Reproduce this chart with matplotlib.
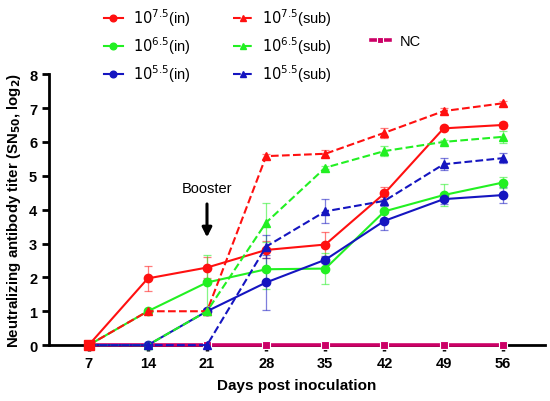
import matplotlib
matplotlib.use("Agg")
import matplotlib.pyplot as plt

plt.rcParams['font.family'] = ['Liberation Sans', 'DejaVu Sans']

days = [7, 14, 21, 28, 35, 42, 49, 56]

# intranasal groups (solid, circles)
in75 = [0, 1.97, 2.29, 2.81, 2.97, 4.48, 6.40, 6.50]
in75_err = [0, 0.37, 0.30, 0.25, 0.36, 0.18, 0.05, 0.10]
in65 = [0, 1.0, 1.85, 2.24, 2.26, 3.95, 4.43, 4.80]
in65_err = [0, 0, 0.80, 0.57, 0.46, 0.20, 0.33, 0.15]
in55 = [0, 0, 1.0, 1.85, 2.52, 3.67, 4.31, 4.43]
in55_err = [0, 0, 0, 0.80, 0.10, 0.28, 0.15, 0.24]

# subcutaneous groups (dashed, triangles)
sub75 = [0, 1.0, 1.0, 5.58, 5.65, 6.27, 6.91, 7.14]
sub75_err = [0, 0, 0, 0.07, 0.10, 0.15, 0.10, 0.08]
sub65 = [0, 0, 1.0, 3.62, 5.24, 5.73, 6.00, 6.15]
sub65_err = [0, 0, 0, 0.57, 0.05, 0.16, 0.05, 0.17]
sub55 = [0, 0, 0, 2.91, 3.95, 4.26, 5.34, 5.52]
sub55_err = [0, 0, 0, 0.35, 0.35, 0.15, 0.18, 0.14]

nc = [0, 0, 0, 0, 0, 0, 0, 0]

red = '#FF1010'
green = '#22F022'
blue = '#1515C0'
magenta = '#CC0066'

fig = plt.figure(figsize=(5.5, 4.02), dpi=100)
ax = fig.add_axes([0.089, 0.139, 0.902, 0.674])

series = [
    (in75, in75_err, red, '-', 'o', r'$10^{7.5}$(in)'),
    (in65, in65_err, green, '-', 'o', r'$10^{6.5}$(in)'),
    (in55, in55_err, blue, '-', 'o', r'$10^{5.5}$(in)'),
    (sub75, sub75_err, red, '--', '^', r'$10^{7.5}$(sub)'),
    (sub65, sub65_err, green, '--', '^', r'$10^{6.5}$(sub)'),
    (sub55, sub55_err, blue, '--', '^', r'$10^{5.5}$(sub)'),
]

handles = []
for vals, err, col, ls, mk, lab in series:
    ax.errorbar(days, vals, yerr=err, fmt='none', ecolor=col, elinewidth=0.9,
                capsize=3, capthick=0.9, alpha=0.55, clip_on=False, zorder=2)
    h, = ax.plot(days, vals, color=col, linestyle=ls, linewidth=1.5, marker=mk,
                 markersize=6, clip_on=False, zorder=3, label=lab)
    handles.append(h)

hnc, = ax.plot(days, nc, color=magenta, linewidth=2.6, marker='s', markersize=5.5,
               markeredgecolor='white', markeredgewidth=0.8, clip_on=False,
               zorder=2.8, label='NC')
# red start point on top
ax.plot(days[0], in75[0], 's', color=red, markersize=6.5, clip_on=False, zorder=4)

ax.set_xlim(2.3, 61)
ax.set_ylim(0, 8)
ax.set_xticks(days)
ax.set_yticks(range(0, 9))
for s in ['top', 'right']:
    ax.spines[s].set_visible(False)
for s in ['left', 'bottom']:
    ax.spines[s].set_linewidth(2)
    ax.spines[s].set_zorder(1)
ax.tick_params(axis='both', width=2, length=5, labelsize=10.5)
ax.tick_params(axis='x', length=4, width=2.5)
for t in ax.get_xticklabels() + ax.get_yticklabels():
    t.set_fontweight('bold')

ax.set_xlabel('Days post inoculation', fontsize=11, fontweight='bold', labelpad=6)
ax.set_ylabel(r'Neutralizing antibody titer (SN$_{\mathbf{50}}$, log$_{\mathbf{2}}$)',
              fontsize=10.8, fontweight='bold')

ax.text(21, 4.63, 'Booster', ha='center', va='center', fontsize=10.5)
ax.annotate('', xy=(21, 3.1), xytext=(21, 4.25),
            arrowprops=dict(arrowstyle='-|>', color='black', lw=2.2, mutation_scale=14))

leg_kw = dict(frameon=False, fontsize=10.5, handlelength=1.3, handletextpad=0.7,
              labelspacing=0.45, markerscale=0.8, loc='upper left')
fig.legend(handles=handles[:3], bbox_to_anchor=(0.165, 1.015), **leg_kw)
fig.legend(handles=handles[3:], bbox_to_anchor=(0.4, 1.015), **leg_kw)
fig.legend(handles=[hnc], bbox_to_anchor=(0.65, 0.945), **leg_kw)

fig.savefig('out.png', dpi=100)
